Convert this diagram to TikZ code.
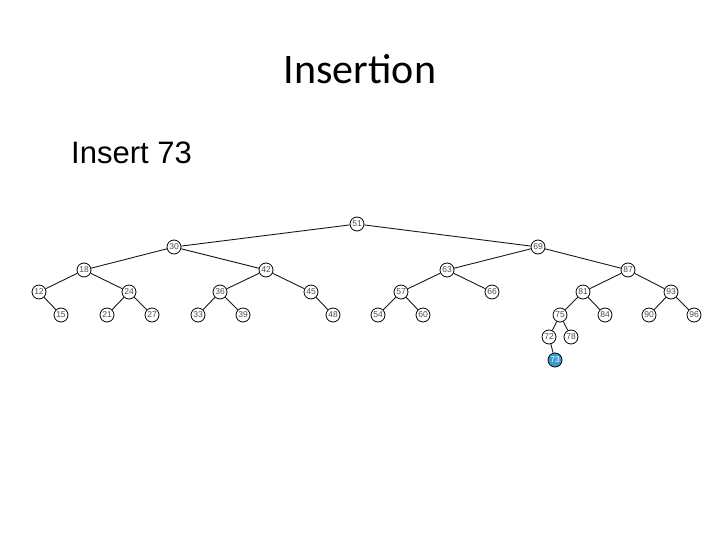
\documentclass[tikz,border=0pt]{standalone}
\usepackage{fontspec}
\setmainfont{Liberation Sans}
\newfontfamily\titlefont{Carlito}
\definecolor{newblue}{HTML}{3A9AD0}
\begin{document}
\begin{tikzpicture}[x=1pt,y=-1pt,
  tn/.style={circle,draw=black,line width=0.8pt,fill=white,minimum size=14pt,inner sep=0pt,font=\fontsize{8.5}{9}\selectfont,text=black!70},
  newn/.style={tn,fill=newblue,text=white},
  edge/.style={draw=black!90,line width=0.9pt}]
\useasboundingbox (0,0) rectangle (720,540);
\node[font=\titlefont\fontsize{42}{46}\selectfont,anchor=base] (title) at (360,84) {Insertion};
\node[font=\fontsize{31}{35}\selectfont,anchor=base west,inner sep=0pt] (sub) at (71,164) {Insert 73};
% nodes
\node[tn] (n51) at (357,224) {51};
\node[tn] (n30) at (174,247) {30};
\node[tn] (n69) at (538,247) {69};
\node[tn] (n18) at (84,270) {18};
\node[tn] (n42) at (266,270) {42};
\node[tn] (n63) at (447,270) {63};
\node[tn] (n87) at (628,270) {87};
\node[tn] (n12) at (39,292) {12};
\node[tn] (n24) at (129,292) {24};
\node[tn] (n36) at (220,292) {36};
\node[tn] (n45) at (311,292) {45};
\node[tn] (n57) at (401,292) {57};
\node[tn] (n66) at (492,292) {66};
\node[tn] (n81) at (583,292) {81};
\node[tn] (n93) at (671,292) {93};
\node[tn] (n15) at (61,315) {15};
\node[tn] (n21) at (107,315) {21};
\node[tn] (n27) at (152,315) {27};
\node[tn] (n33) at (198,315) {33};
\node[tn] (n39) at (243,315) {39};
\node[tn] (n48) at (333,315) {48};
\node[tn] (n54) at (378,315) {54};
\node[tn] (n60) at (423,315) {60};
\node[tn] (n75) at (560,315) {75};
\node[tn] (n84) at (605,315) {84};
\node[tn] (n90) at (649,315) {90};
\node[tn] (n96) at (694,315) {96};
\node[tn] (n72) at (549,337) {72};
\node[tn] (n78) at (571,337) {78};
\node[newn] (n73) at (555,360) {73};
% edges
\foreach \a/\b in {51/30,51/69,30/18,30/42,69/63,69/87,18/12,18/24,42/36,42/45,63/57,63/66,87/81,87/93,12/15,24/21,24/27,36/33,36/39,45/48,57/54,57/60,81/75,81/84,93/90,93/96,75/72,75/78,72/73}
  \draw[edge] (n\a) -- (n\b);
\end{tikzpicture}
\end{document}
